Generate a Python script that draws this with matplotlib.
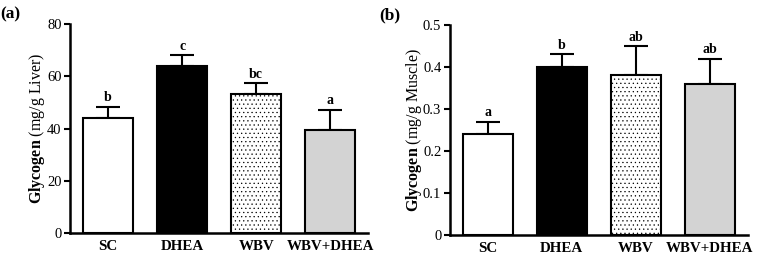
import matplotlib.pyplot as plt
import numpy as np

plt.rcParams['font.family'] = ['Liberation Serif', 'DejaVu Serif']
plt.rcParams['mathtext.fontset'] = 'custom'
plt.rcParams['mathtext.rm'] = 'Liberation Serif'
plt.rcParams['mathtext.bf'] = 'Liberation Serif:bold'
plt.rcParams['hatch.linewidth'] = 0.4

groups = ["SC", "DHEA", "WBV", "WBV+DHEA"]

liver_mean = [44.0, 64.0, 53.2, 39.4]
liver_err = [4.3, 4.1, 4.1, 7.7]
liver_letters = ["b", "c", "bc", "a"]

muscle_mean = [0.24, 0.40, 0.38, 0.36]
muscle_err = [0.03, 0.03, 0.07, 0.06]
muscle_letters = ["a", "b", "ab", "ab"]

colors = ["white", "black", "white", "#d3d3d3"]
hatches = [None, None, "....", None]

fig = plt.figure(figsize=(7.57, 2.56), dpi=100)
ax1 = fig.add_axes([0.0925, 0.090, 0.394, 0.816])
ax2 = fig.add_axes([0.594, 0.082, 0.394, 0.820])


def draw(ax, means, errs, letters, ymax, step, ylabel, fmt, panel, pad):
    x = np.arange(len(groups))
    for i in range(len(groups)):
        ax.bar(x[i], means[i], width=0.676, color=colors[i], edgecolor="black",
               linewidth=1.5, hatch=hatches[i], zorder=2)
    ax.errorbar(x, means, yerr=[np.zeros(len(errs)), errs], fmt="none",
                ecolor="black", elinewidth=1.5, capsize=8.5, capthick=1.5, zorder=1)
    for i in range(len(groups)):
        ax.text(x[i], means[i] + errs[i] + ymax * 0.012, letters[i],
                ha="center", va="bottom", fontsize=10, fontweight="bold")
    ax.set_xlim(-0.514, 3.514)
    ax.set_ylim(0, ymax)
    ax.set_yticks(np.arange(0, ymax + step / 2, step))
    ax.yaxis.set_major_formatter(plt.FuncFormatter(fmt))
    ax.set_xticks(x)
    ax.set_xticklabels(groups, fontweight="bold", fontsize=10.8)
    ax.tick_params(axis="x", length=0, pad=5)
    ax.tick_params(axis="y", length=4, width=1.5, labelsize=10.5, pad=2)
    for s in ["top", "right"]:
        ax.spines[s].set_visible(False)
    for s in ["left", "bottom"]:
        ax.spines[s].set_linewidth(1.8)
    ax.set_ylabel(ylabel, fontsize=11.5, labelpad=pad)
    ax.text(-0.235, 1.045, panel, transform=ax.transAxes, fontsize=12.5,
            fontweight="bold", ha="left", va="center")


draw(ax1, liver_mean, liver_err, liver_letters, 80, 20,
     r"$\mathbf{Glycogen}$ (mg/g Liver)", lambda v, p: f"{v:.0f}", "(a)", 0)
draw(ax2, muscle_mean, muscle_err, muscle_letters, 0.5, 0.1,
     r"$\mathbf{Glycogen}$ (mg/g Muscle)",
     lambda v, p: "0" if v == 0 else f"{v:.1f}", "(b)", -0.5)

fig.savefig("out.png", dpi=100)
